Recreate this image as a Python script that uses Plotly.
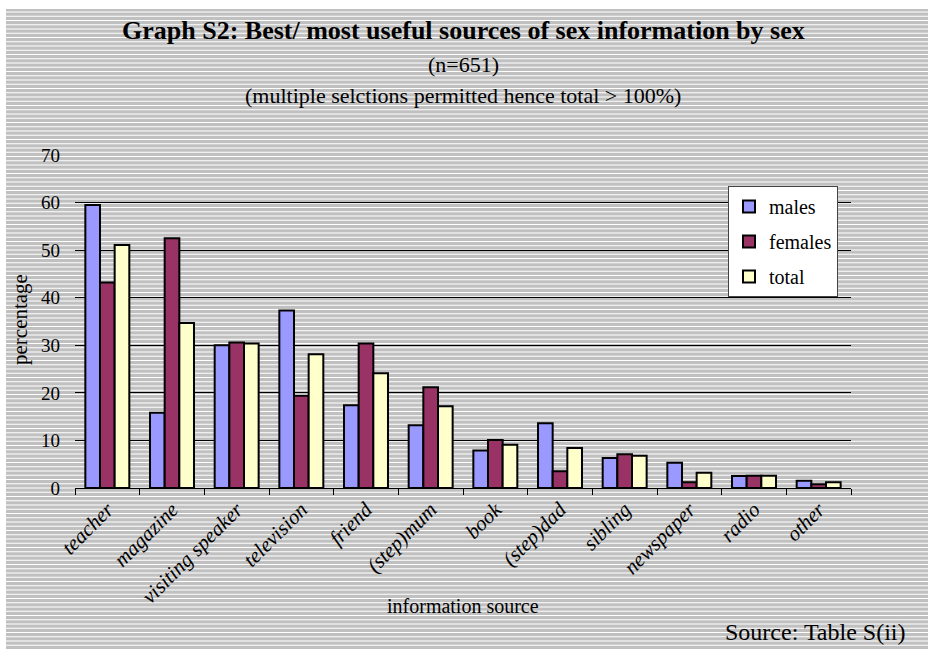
import plotly.graph_objects as go

# Survey results: best / most useful sources of sex information (percent)
sources = ["teacher", "magazine", "visiting speaker", "television", "friend",
           "(step)mum", "book", "(step)dad", "sibling", "newspaper", "radio", "other"]
males = [59.5, 15.8, 30.0, 37.3, 17.4, 13.2, 7.9, 13.6, 6.3, 5.3, 2.5, 1.5]
females = [43.2, 52.5, 30.6, 19.4, 30.4, 21.2, 10.1, 3.5, 7.1, 1.2, 2.6, 0.8]
total = [51.1, 34.7, 30.4, 28.1, 24.1, 17.2, 9.1, 8.4, 6.8, 3.2, 2.6, 1.2]
y_ticks = [0, 10, 20, 30, 40, 50, 60, 70]

W, H = 928, 650
ML, MR, MT, MB = 75, 77, 155, 162
PW, PH = W - ML - MR, H - MT - MB
SERIF = "Liberation Serif, Times New Roman, serif"


def px_x(px):
    return (px - ML) / PW


def px_y(py):
    return (H - MB - py) / PH


fig = go.Figure()
series = [("males", males, "#9999FF"),
          ("females", females, "#993366"),
          ("total", total, "#FFFFCC")]
for name, vals, col in series:
    fig.add_trace(go.Bar(
        x=sources, y=vals, name=name, legendgroup=name,
        marker=dict(color=col, line=dict(color="black", width=2)),
    ))

# striped grey backdrop
shapes = [dict(type="rect", xref="paper", yref="paper", layer="below",
               x0=px_x(6), x1=px_x(W), y0=px_y(9), y1=px_y(H),
               fillcolor="#c0c0c0", line=dict(width=0))]
yy = 12.0
while yy < H:
    shapes.append(dict(type="line", xref="paper", yref="paper", layer="below",
                       x0=px_x(6), x1=px_x(W), y0=px_y(yy), y1=px_y(yy),
                       line=dict(color="white", width=1.2)))
    yy += 4.25


def label(text, px, py, size, **kw):
    d = dict(text=text, x=px_x(px), y=px_y(py), xref="paper", yref="paper",
             showarrow=False, xanchor=kw.pop("xanchor", "center"),
             yanchor="middle",
             font=dict(family=SERIF, size=size, color="black",
                       weight=kw.pop("weight", "normal")))
    d.update(kw)
    return d


annotations = [
    label("Graph S2: Best/ most useful sources of sex information by sex",
          463, 31, 26, weight="bold"),
    label("(n=651)", 463, 64, 22),
    label("(multiple selctions permitted hence total > 100%)", 463, 95, 22),
    label("information source", 463, 606, 20),
    label("percentage", 20, 320, 21, textangle=-90),
    label("Source: Table S(ii)", 908, 632, 24, xanchor="right"),
]

fig.update_layout(
    width=W, height=H,
    margin=dict(l=ML, r=MR, t=MT, b=MB, pad=0),
    paper_bgcolor="white",
    plot_bgcolor="rgba(0,0,0,0)",
    barmode="group",
    bargap=0.32,
    bargroupgap=0,
    shapes=shapes,
    annotations=annotations,
    font=dict(family=SERIF, color="black"),
    legend=dict(
        x=px_x(728), y=px_y(186), xanchor="left", yanchor="top",
        bgcolor="white", bordercolor="#444444", borderwidth=1,
        font=dict(family=SERIF, size=20, color="black"),
        tracegroupgap=6, itemwidth=30,
    ),
    xaxis=dict(
        type="category", showline=True, linecolor="black", linewidth=1,
        ticks="outside", tickson="boundaries", ticklen=6, tickcolor="black",
        tickangle=-45, showgrid=False,
        tickfont=dict(family=SERIF, size=21, style="italic", color="black"),
    ),
    yaxis=dict(
        range=[0, 70], tickvals=y_ticks, showgrid=True, gridcolor="black",
        gridwidth=1, zeroline=False, showline=False, ticks="",
        ticklabelstandoff=14,
        tickfont=dict(family=SERIF, size=19, color="black"),
    ),
)

fig.write_html("out.html")
